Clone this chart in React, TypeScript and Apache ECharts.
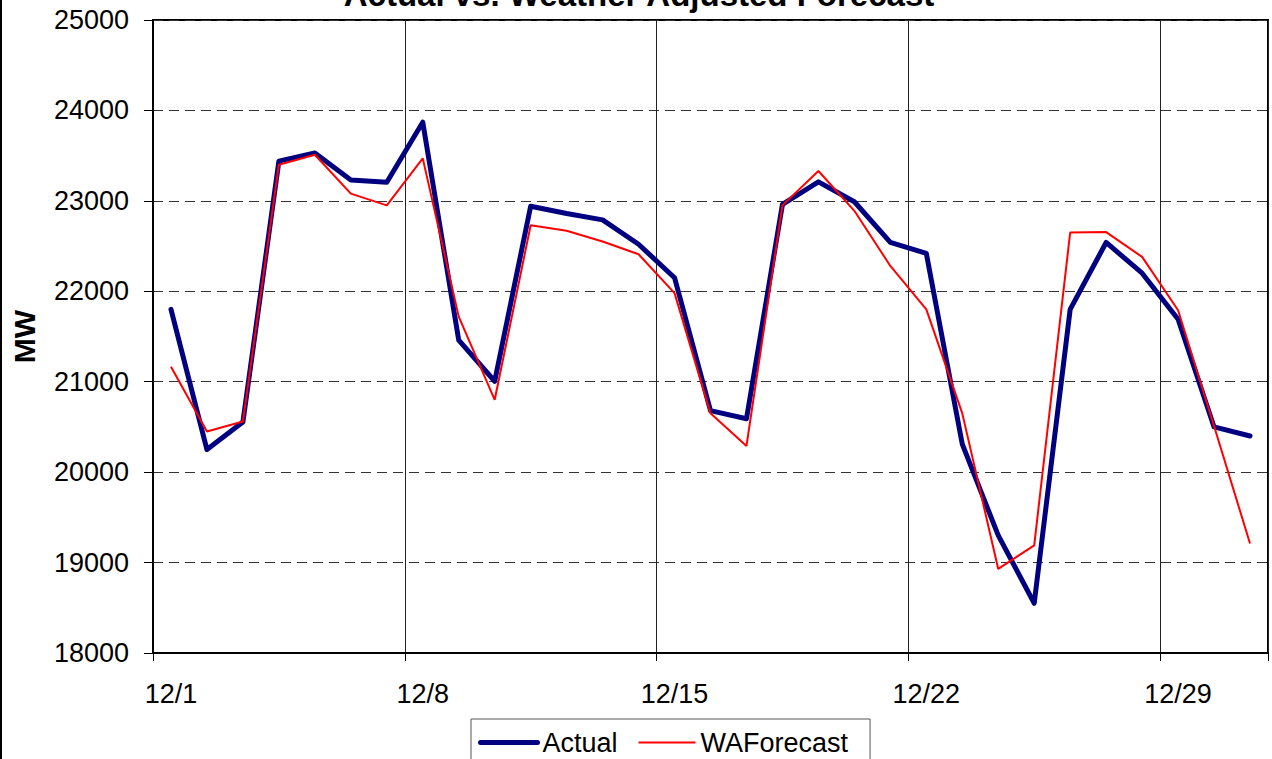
import React, { useEffect, useRef } from "react";
import * as echarts from "echarts";

const titleText = "Actual vs. Weather Adjusted Forecast";
const yAxisName = "MW";
const seriesNames = ["Actual", "WAForecast"];

const categories = [
  "12/1", "12/2", "12/3", "12/4", "12/5", "12/6", "12/7", "12/8", "12/9", "12/10",
  "12/11", "12/12", "12/13", "12/14", "12/15", "12/16", "12/17", "12/18", "12/19", "12/20",
  "12/21", "12/22", "12/23", "12/24", "12/25", "12/26", "12/27", "12/28", "12/29", "12/30", "12/31",
];

const actual = [
  21800, 20250, 20555, 23440, 23530, 23230, 23205, 23870, 21460, 21005,
  22940, 22860, 22790, 22520, 22150, 20680, 20590, 22960, 23210, 22990,
  22540, 22420, 20310, 19300, 18550, 21800, 22540, 22200, 21690, 20500, 20400,
];

const waForecast = [
  21165, 20450, 20560, 23400, 23510, 23080, 22950, 23470, 21720, 20800,
  22730, 22670, 22550, 22410, 21980, 20650, 20290, 22950, 23330, 22890,
  22280, 21800, 20650, 18930, 19190, 22650, 22655, 22380, 21790, 20510, 19210,
];

const yMin = 18000;
const yMax = 25000;
const yStep = 1000;

const FONT = "'Liberation Sans', Arial, sans-serif";

const hiddenSymbol = {
  color: "rgba(0,0,0,0)",
  borderColor: "rgba(0,0,0,0)",
  borderWidth: 0,
  opacity: 0,
};

export default function App() {
  const ref = useRef<HTMLDivElement>(null);

  useEffect(() => {
    document.body.style.margin = "0";
    if (!ref.current) return;
    const chart = echarts.init(ref.current, null, { renderer: "svg" });
    chart.setOption({
      animation: false,
      backgroundColor: "#ffffff",
      textStyle: { fontFamily: FONT },
      graphic: [
        {
          type: "text",
          x: 639,
          y: -6,
          style: {
            text: titleText,
            fontFamily: FONT,
            fontSize: 33,
            fontWeight: "bold",
            fill: "#000",
            align: "center",
            verticalAlign: "middle",
          },
        },
        {
          type: "line",
          shape: { x1: 1, y1: 0, x2: 1, y2: 759 },
          style: { stroke: "#000", lineWidth: 2 },
        },
      ],
      grid: {
        left: 153,
        right: 4,
        top: 20,
        bottom: 106,
        show: true,
        borderColor: "#000",
        borderWidth: 2,
        backgroundColor: "transparent",
        outerBoundsMode: "none",
      },
      legend: {
        left: 471,
        top: 719,
        orient: "horizontal",
        padding: [10, 22, 10, 7],
        itemGap: 20,
        itemWidth: 57,
        itemHeight: 28,
        borderColor: "#555",
        borderWidth: 1,
        backgroundColor: "#fff",
        textStyle: { fontFamily: FONT, fontSize: 27, color: "#000" },
        data: [
          { name: seriesNames[0], lineStyle: { width: 5, color: "#000080" }, itemStyle: hiddenSymbol },
          { name: seriesNames[1], lineStyle: { width: 2, color: "#ff0000" }, itemStyle: hiddenSymbol },
        ],
      },
      xAxis: {
        type: "category",
        data: categories,
        boundaryGap: true,
        axisLine: { show: true, lineStyle: { color: "#000", width: 2 } },
        axisTick: { show: true, interval: 6, length: 8, lineStyle: { color: "#000", width: 1 } },
        axisLabel: {
          interval: 6,
          margin: 27,
          fontFamily: FONT,
          fontSize: 27,
          color: "#000",
        },
        splitLine: { show: true, interval: 6, lineStyle: { color: "#222", width: 1, type: "solid" } },
      },
      yAxis: {
        type: "value",
        min: yMin,
        max: yMax,
        interval: yStep,
        name: yAxisName,
        nameLocation: "middle",
        nameRotate: 90,
        nameGap: 114,
        nameTextStyle: { fontFamily: FONT, fontSize: 30, fontWeight: "bold", color: "#000" },
        axisLine: { show: true, lineStyle: { color: "#000", width: 2 } },
        axisTick: { show: true, length: 9, lineStyle: { color: "#000", width: 1 } },
        axisLabel: {
          margin: 24,
          fontFamily: FONT,
          fontSize: 27,
          color: "#000",
          formatter: (v: number) => String(v),
        },
        splitLine: { show: true, lineStyle: { color: "#333", width: 1, type: [10, 6] } },
      },
      series: [
        {
          name: seriesNames[0],
          type: "line",
          data: actual,
          symbol: "none",
          lineStyle: { color: "#000080", width: 5, join: "round", cap: "round" },
          itemStyle: { color: "#000080" },
        },
        {
          name: seriesNames[1],
          type: "line",
          data: waForecast,
          symbol: "none",
          lineStyle: { color: "#ff0000", width: 2 },
          itemStyle: { color: "#ff0000" },
        },
      ],
    });
    return () => chart.dispose();
  }, []);

  return <div ref={ref} style={{ width: 1272, height: 759 }} />;
}
